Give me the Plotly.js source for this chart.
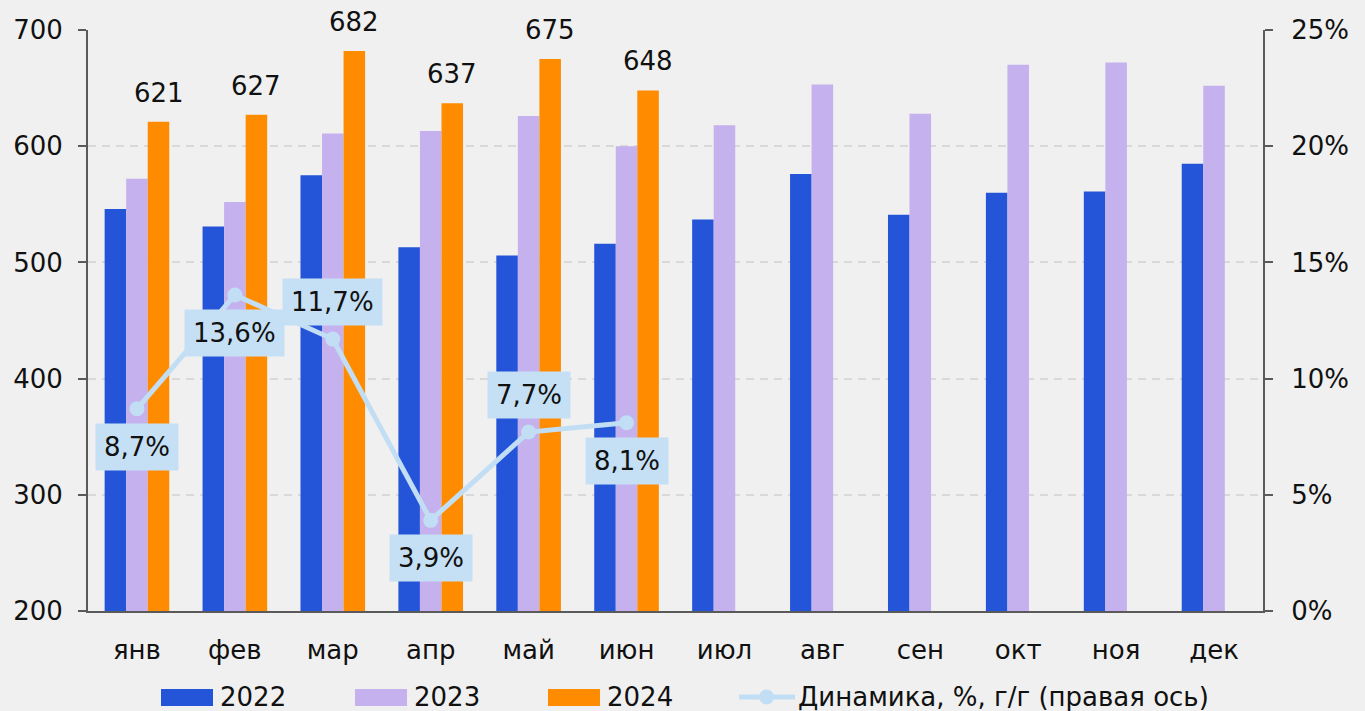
<!DOCTYPE html>
<html><head><meta charset="utf-8">
<script src="https://cdn.plot.ly/plotly-3.0.1.min.js"></script>
<style>html,body{margin:0;padding:0;background:#F0F0F0;}#chart{width:1365px;height:711px;}</style>
</head><body><div id="chart"></div>
<script>
const months = ['янв','фев','мар','апр','май','июн','июл','авг','сен','окт','ноя','дек'];
const v2022 = [546, 531, 575, 513, 506, 516, 537, 576, 541, 560, 561, 585];
const v2023 = [572, 552, 611, 613, 626, 600, 618, 653, 628, 670, 672, 652];
const v2024 = [621, 627, 682, 637, 675, 648, null, null, null, null, null, null];
const dynMonths = ['янв','фев','мар','апр','май','июн'];
const dynamics = [8.7, 13.6, 11.7, 3.9, 7.7, 8.1];
const dynLabels = ['8,7%','13,6%','11,7%','3,9%','7,7%','8,1%'];
const dynLabelPos = ['below','below','above','below','above','below'];
const seriesNames = ['2022','2023','2024','Динамика, %, г/г (правая ось)'];

const FONT = '"DejaVu Sans", sans-serif';
const FS = 26;
const C2022 = '#2454D8', C2023 = '#C4B1EE', C2024 = '#FF8C00', CLINE = '#C2DEF5';
const colors = [C2022, C2023, C2024];

// geometry of the page (pixels)
const W = 1365, H = 711;
const M = {l:88, r:102, t:30, b:100};
const PW = W - M.l - M.r, PH = H - M.t - M.b;
const BARGAP = 0.34;
const px2x = p => (p - M.l) / PW;
const py2y = p => (H - M.b - p) / PH;

const traces = [
  {type:'bar', name:seriesNames[0], x:months, y:v2022, marker:{color:C2022}, hoverinfo:'skip', showlegend:false},
  {type:'bar', name:seriesNames[1], x:months, y:v2023, marker:{color:C2023}, hoverinfo:'skip', showlegend:false},
  {type:'bar', name:seriesNames[2], x:months, y:v2024, marker:{color:C2024}, hoverinfo:'skip', showlegend:false},
  {type:'scatter', mode:'lines+markers', name:seriesNames[3], x:dynMonths, y:dynamics, yaxis:'y2',
   line:{color:CLINE, width:5}, marker:{color:CLINE, size:15}, hoverinfo:'skip', showlegend:false}
];

// value labels above the 2024 bars
const catW = PW / months.length;
const barW = catW * (1 - BARGAP) / 3;
const annotations = [];
months.forEach((m, i) => {
  if (v2024[i] === null) return;
  annotations.push({x:m, y:v2024[i], xref:'x', yref:'y', text:String(v2024[i]), showarrow:false,
    xanchor:'center', yanchor:'bottom', xshift:barW, yshift:12,
    font:{family:FONT, size:FS, color:'#111'}});
});
// labels of the dynamics line
dynMonths.forEach((m, i) => {
  annotations.push({x:m, y:dynamics[i], xref:'x', yref:'y2', text:dynLabels[i], showarrow:false,
    yshift: dynLabelPos[i] === 'below' ? -38 : 37,
    bgcolor:'#C5E0F5', borderpad:8, font:{family:FONT, size:FS, color:'#111'}});
});

// custom legend (wide swatches like the reference)
const shapes = [];
const legendRects = [[161, 213], [355, 407], [548, 600]];
const legY0 = 689, legY1 = 706, legYc = 697;
legendRects.forEach((r, i) => {
  shapes.push({type:'rect', xref:'paper', yref:'paper', x0:px2x(r[0]), x1:px2x(r[1]), y0:py2y(legY1), y1:py2y(legY0),
               fillcolor:colors[i], line:{width:0}});
  annotations.push({xref:'paper', yref:'paper', x:px2x(r[1] + 5), y:py2y(legYc), xanchor:'left', yanchor:'middle',
                    text:seriesNames[i], showarrow:false, font:{family:FONT, size:FS, color:'#111'}});
});
shapes.push({type:'line', xref:'paper', yref:'paper', x0:px2x(739), x1:px2x(795), y0:py2y(legYc), y1:py2y(legYc),
             line:{color:CLINE, width:5}});
shapes.push({type:'circle', xref:'paper', yref:'paper', x0:px2x(759), x1:px2x(774), y0:py2y(legYc + 7.5), y1:py2y(legYc - 7.5),
             fillcolor:CLINE, line:{width:0}});
annotations.push({xref:'paper', yref:'paper', x:px2x(796), y:py2y(legYc), xanchor:'left', yanchor:'middle',
                  text:seriesNames[3], showarrow:false, font:{family:FONT, size:FS, color:'#111'}});

const layout = {
  width:W, height:H,
  paper_bgcolor:'#F0F0F0', plot_bgcolor:'#F0F0F0',
  margin:M,
  font:{family:FONT, size:FS, color:'#111'},
  barmode:'group', bargap:BARGAP, bargroupgap:0,
  showlegend:false,
  xaxis:{type:'category', range:[-0.5, months.length - 0.5], showgrid:false, zeroline:false, showline:true,
         linecolor:'#5A5A5A', linewidth:2,
         ticks:'', ticklabelstandoff:15, tickfont:{family:FONT, size:FS, color:'#111'}},
  yaxis:{range:[200,700], dtick:100, showgrid:true, gridcolor:'#D9D9D9', griddash:'8px,6px', gridwidth:2,
         zeroline:false, showline:true, linecolor:'#5A5A5A', linewidth:2, ticks:'outside', ticklen:8,
         tickcolor:'#5A5A5A', tickwidth:2, ticklabelstandoff:10, tickfont:{family:FONT, size:FS, color:'#111'}},
  yaxis2:{range:[0,25], dtick:5, overlaying:'y', side:'right', showgrid:false, zeroline:false,
          showline:true, linecolor:'#5A5A5A', linewidth:2, ticks:'outside', ticklen:8, tickcolor:'#5A5A5A', tickwidth:2,
          ticksuffix:'%', ticklabelstandoff:13, tickfont:{family:FONT, size:FS, color:'#111'}},
  shapes:shapes,
  annotations:annotations
};

Plotly.newPlot('chart', traces, layout, {staticPlot:true});
</script></body></html>
